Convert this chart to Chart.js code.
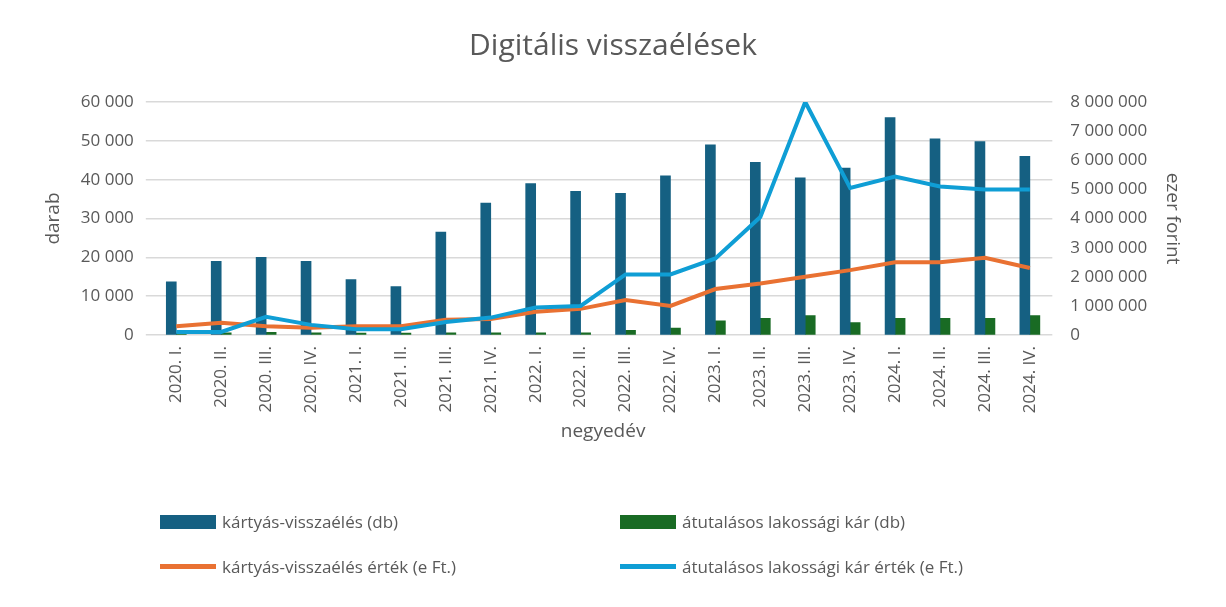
<!DOCTYPE html>
<html><head><meta charset="utf-8">
<script src="https://cdn.jsdelivr.net/npm/chart.js@4"></script>
<style>
body{margin:0;background:#fff;font-family:"Open Sans",sans-serif;}
#wrap{position:relative;width:1226px;height:607px;}
#leg{position:absolute;left:160px;top:510px;width:960px;font-size:17px;color:#595959;}
.it{position:absolute;display:flex;align-items:center;white-space:nowrap;}
.sw{display:inline-block;width:56px;margin-right:6px;}
</style></head><body>
<div id="wrap"><canvas id="c" width="1226" height="607"></canvas>
<div id="leg"></div></div>
<script>
const categories=["2020. I.","2020. II.","2020. III.","2020. IV.","2021. I.","2021. II.","2021. III.","2021. IV.","2022. I.","2022. II.","2022. III.","2022. IV.","2023. I.","2023. II.","2023. III.","2023. IV.","2024. I.","2024. II.","2024. III.","2024. IV."];
const cardCount=[13700,19000,20000,19000,14300,12500,26500,34000,39000,37000,36500,41000,49000,44500,40500,43000,56000,50500,49800,46000];
const transferCount=[500,600,700,600,500,500,600,600,600,600,1200,1800,3700,4300,5000,3200,4300,4300,4300,5000];
const cardValue=[300000,420000,300000,250000,300000,300000,530000,550000,800000,900000,1200000,1000000,1580000,1770000,2000000,2230000,2500000,2500000,2650000,2300000];
const transferValue=[110000,110000,630000,350000,200000,200000,450000,600000,950000,1000000,2080000,2080000,2630000,4050000,8000000,5050000,5440000,5100000,5000000,5000000];
const names=["kártyás-visszaélés (db)","átutalásos lakossági kár (db)","kártyás-visszaélés érték (e Ft.)","átutalásos lakossági kár érték (e Ft.)"];
const colors=["#156082","#196B24","#E97132","#0F9ED5"];
const fmt=v=>Math.round(v).toString().replace(/\B(?=(\d{3})+(?!\d))/g," ");
const tc="#595959";
new Chart(document.getElementById('c'),{
 data:{labels:categories,datasets:[
  {type:'line',label:names[3],data:transferValue,yAxisID:'y1',borderColor:colors[3],borderWidth:4,pointRadius:0,tension:0,order:1},
  {type:'line',label:names[2],data:cardValue,yAxisID:'y1',borderColor:colors[2],borderWidth:4,pointRadius:0,tension:0,order:2},
  {type:'bar',label:names[0],data:cardCount,yAxisID:'y',backgroundColor:colors[0],barThickness:10,order:3},
  {type:'bar',label:names[1],data:transferCount,yAxisID:'y',backgroundColor:colors[1],barThickness:10,order:4}
 ]},
 options:{responsive:false,animation:false,
  layout:{padding:{left:38,right:38,top:10,bottom:160}},
  plugins:{legend:{display:false},tooltip:{enabled:false},
   title:{display:true,text:"Digitális visszaélések",color:tc,font:{family:"Open Sans",size:30,weight:'normal'},padding:{top:18,bottom:38}}},
  scales:{
   x:{grid:{display:false},border:{display:false},
      ticks:{color:tc,font:{family:"Open Sans",size:17},maxRotation:90,minRotation:90},
      title:{display:true,text:"negyedév",color:tc,font:{family:"Open Sans",size:19}}},
   y:{position:'left',min:0,max:60000,ticks:{stepSize:10000,color:tc,font:{family:"Open Sans",size:17},callback:fmt,padding:12},
      grid:{color:"#d9d9d9",lineWidth:1.5},border:{display:false},
      title:{display:true,text:"darab",color:tc,font:{family:"Open Sans",size:19}}},
   y1:{position:'right',min:0,max:8000000,ticks:{stepSize:1000000,color:tc,font:{family:"Open Sans",size:17},callback:fmt,padding:10},
      grid:{display:false},border:{display:false},
      title:{display:true,text:"ezer forint",color:tc,font:{family:"Open Sans",size:19}}}
  }}
});
const pos=[[0,0,'bar'],[460,0,'bar'],[0,45,'line'],[460,45,'line']];
const leg=document.getElementById('leg');
[0,1,2,3].forEach((i,k)=>{const d=document.createElement('div');d.className='it';d.style.left=pos[k][0]+'px';d.style.top=pos[k][1]+'px';
 const s=document.createElement('span');s.className='sw';s.style.background=colors[i];s.style.height=pos[k][2]=='bar'?'14px':'5px';
 d.appendChild(s);d.appendChild(document.createTextNode(names[i]));leg.appendChild(d);});
</script></body></html>
